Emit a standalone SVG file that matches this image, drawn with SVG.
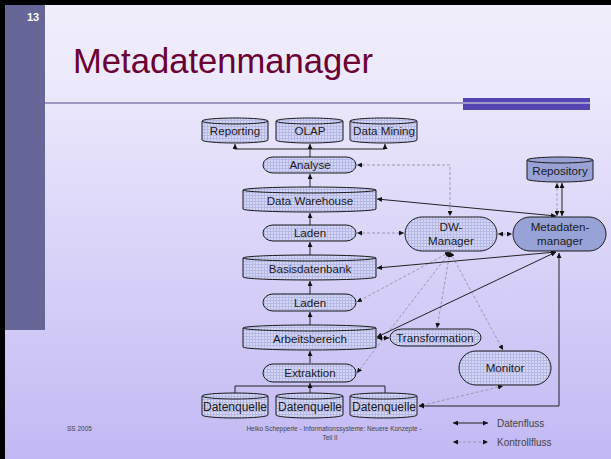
<svg xmlns="http://www.w3.org/2000/svg" width="611" height="459" viewBox="0 0 611 459">
<defs>
<linearGradient id="bg" x1="0" y1="0" x2="0" y2="1">
<stop offset="0" stop-color="#f1effb"/>
<stop offset="0.2" stop-color="#ebe8fb"/>
<stop offset="1" stop-color="#c2b9f4"/>
</linearGradient>
<pattern id="grid" width="3" height="3" patternUnits="userSpaceOnUse">
<rect width="3" height="3" fill="#d4d6f5"/>
<path d="M0 0.5H3M0.5 0V3" stroke="#b6b9e6" stroke-width="1"/>
</pattern>
<marker id="ah" viewBox="0 0 6 6" refX="6" refY="3" markerWidth="5" markerHeight="5" markerUnits="userSpaceOnUse" orient="auto-start-reverse">
<path d="M0 0L6 3L0 6z" fill="#111"/>
</marker>
<style>
.n{fill:url(#grid);stroke:#1a1a1a;stroke-width:1}
.d{fill:#98a2d6;stroke:#1a1a1a;stroke-width:1}
.t{font-family:"Liberation Sans",Arial,sans-serif;font-size:11.6px;fill:#1a1a1a;text-anchor:middle}
.s{fill:none;stroke:#222;stroke-width:1}
.c{fill:none;stroke:#8a8aa0;stroke-width:0.8;stroke-dasharray:3 2}
.f{font-family:"Liberation Sans",Arial,sans-serif;fill:#444}
</style>
</defs>
<rect width="611" height="459" fill="url(#bg)"/>
<rect x="0" y="0" width="611" height="5" fill="#000"/>
<rect x="0" y="0" width="5" height="459" fill="#000"/>
<rect x="5" y="5" width="40" height="325" fill="#666699"/>
<text x="33" y="21" font-family="Liberation Sans,Arial,sans-serif" font-size="11" font-weight="bold" fill="#fff" text-anchor="middle">13</text>
<text x="73" y="73" font-family="Liberation Sans,Arial,sans-serif" font-size="35" fill="#6b0033" textLength="300" lengthAdjust="spacingAndGlyphs">Metadatenmanager</text>
<rect x="463" y="98" width="127" height="12" fill="#5544b4"/>
<rect x="45" y="102" width="545" height="2" fill="#9c98c8"/>

<g id="connectors">
<path class="s" d="M235 149H385"/>
<path class="s" d="M235 149V144" marker-end="url(#ah)"/>
<path class="s" d="M310 157V144" marker-end="url(#ah)"/>
<path class="s" d="M385 149V144" marker-end="url(#ah)"/>
<path class="s" d="M310 187V174" marker-end="url(#ah)"/>
<path class="s" d="M310 225V213" marker-end="url(#ah)"/>
<path class="s" d="M310 255V242" marker-end="url(#ah)"/>
<path class="s" d="M310 294V281" marker-end="url(#ah)"/>
<path class="s" d="M310 325V312" marker-end="url(#ah)"/>
<path class="s" d="M310 363V351" marker-end="url(#ah)"/>
<path class="s" d="M235 393V386H385V393"/>
<path class="s" d="M310 393V383" marker-end="url(#ah)"/>

<path class="c" d="M357 165H450V216" marker-start="url(#ah)" marker-end="url(#ah)"/>
<path class="c" d="M357 233H404" marker-start="url(#ah)" marker-end="url(#ah)"/>
<path class="c" d="M498 234H512" marker-start="url(#ah)" marker-end="url(#ah)"/>
<path class="c" d="M450 252L357 302" marker-start="url(#ah)" marker-end="url(#ah)"/>
<path class="c" d="M450 252L357 373" marker-start="url(#ah)" marker-end="url(#ah)"/>
<path class="c" d="M450 252L437 328" marker-start="url(#ah)" marker-end="url(#ah)"/>
<path class="c" d="M450 252L503 350" marker-start="url(#ah)" marker-end="url(#ah)"/>
<path class="c" d="M503 386L419 406" marker-start="url(#ah)" marker-end="url(#ah)"/>
<path class="c" d="M557 183V216" marker-start="url(#ah)" marker-end="url(#ah)"/>

<path class="s" d="M562 183V216" marker-start="url(#ah)" marker-end="url(#ah)"/>
<path class="s" d="M377 199L556 216" marker-start="url(#ah)" marker-end="url(#ah)"/>
<path class="s" d="M377 268L556 252" marker-start="url(#ah)" marker-end="url(#ah)"/>
<path class="s" d="M377 337L556 252" marker-start="url(#ah)" marker-end="url(#ah)"/>
<path class="s" d="M377 338H389" marker-start="url(#ah)" marker-end="url(#ah)"/>
<path class="s" d="M419 406H559V253" marker-start="url(#ah)" marker-end="url(#ah)"/>

<path class="s" d="M453 423H488" marker-start="url(#ah)" marker-end="url(#ah)"/>
<path class="c" d="M453 442H488" marker-start="url(#ah)" marker-end="url(#ah)"/>
</g>

<g id="reporting">
<path class="n" d="M202 121A33 3 0 0 1 268 121V140A33 3 0 0 1 202 140Z"/>
<path class="n" d="M202 121A33 3 0 0 0 268 121"/>
<text class="t" x="235" y="135">Reporting</text>
</g>
<g id="olap">
<path class="n" d="M276 121A33.5 3 0 0 1 343 121V140A33.5 3 0 0 1 276 140Z"/>
<path class="n" d="M276 121A33.5 3 0 0 0 343 121"/>
<text class="t" x="310" y="135">OLAP</text>
</g>
<g id="datamining">
<path class="n" d="M350 121A33.5 3 0 0 1 417 121V140A33.5 3 0 0 1 350 140Z"/>
<path class="n" d="M350 121A33.5 3 0 0 0 417 121"/>
<text class="t" x="384" y="135">Data Mining</text>
</g>
<g id="analyse">
<rect class="n" x="263" y="157" width="93" height="16" rx="10" ry="8"/>
<text class="t" x="310" y="169">Analyse</text>
</g>
<g id="datawarehouse">
<path class="n" d="M243 190A66.5 3 0 0 1 376 190V209A66.5 3 0 0 1 243 209Z"/>
<path class="n" d="M243 190A66.5 3 0 0 0 376 190"/>
<text class="t" x="310" y="205">Data Warehouse</text>
</g>
<g id="laden1">
<rect class="n" x="263" y="225" width="93" height="16" rx="10" ry="8"/>
<text class="t" x="310" y="237">Laden</text>
</g>
<g id="basisdatenbank">
<path class="n" d="M243 258A66.5 3 0 0 1 376 258V277A66.5 3 0 0 1 243 277Z"/>
<path class="n" d="M243 258A66.5 3 0 0 0 376 258"/>
<text class="t" x="310" y="273">Basisdatenbank</text>
</g>
<g id="laden2">
<rect class="n" x="263" y="294" width="93" height="17" rx="10" ry="8.5"/>
<text class="t" x="310" y="307">Laden</text>
</g>
<g id="arbeitsbereich">
<path class="n" d="M243 328A66.5 3 0 0 1 376 328V347A66.5 3 0 0 1 243 347Z"/>
<path class="n" d="M243 328A66.5 3 0 0 0 376 328"/>
<text class="t" x="310" y="343">Arbeitsbereich</text>
</g>
<g id="extraktion">
<rect class="n" x="263" y="364" width="93" height="18" rx="10" ry="9"/>
<text class="t" x="310" y="377">Extraktion</text>
</g>
<g id="datenquelle1">
<path class="n" d="M202 396A33 3 0 0 1 268 396V415A33 3 0 0 1 202 415Z"/>
<path class="n" d="M202 396A33 3 0 0 0 268 396"/>
<text class="t" x="235" y="411" style="font-size:12px">Datenquelle</text>
</g>
<g id="datenquelle2">
<path class="n" d="M276 396A33.5 3 0 0 1 343 396V415A33.5 3 0 0 1 276 415Z"/>
<path class="n" d="M276 396A33.5 3 0 0 0 343 396"/>
<text class="t" x="310" y="411" style="font-size:12px">Datenquelle</text>
</g>
<g id="datenquelle3">
<path class="n" d="M350 396A33.5 3 0 0 1 417 396V415A33.5 3 0 0 1 350 415Z"/>
<path class="n" d="M350 396A33.5 3 0 0 0 417 396"/>
<text class="t" x="384" y="411" style="font-size:12px">Datenquelle</text>
</g>
<g id="dwmanager">
<rect class="n" x="405" y="217" width="92" height="34" rx="17"/>
<text class="t" x="451" y="231">DW-</text>
<text class="t" x="451" y="245">Manager</text>
</g>
<g id="metadatenmanager">
<rect class="d" x="513" y="217" width="93" height="34" rx="17"/>
<text class="t" x="560" y="231">Metadaten-</text>
<text class="t" x="560" y="245">manager</text>
</g>
<g id="repository">
<path class="d" d="M527 160A33 3 0 0 1 593 160V179A33 3 0 0 1 527 179Z"/>
<path class="d" d="M527 160A33 3 0 0 0 593 160"/>
<text class="t" x="560" y="175">Repository</text>
</g>
<g id="transformation">
<rect class="n" x="390" y="329" width="91" height="17" rx="12" ry="8.5"/>
<text class="t" x="435" y="342">Transformation</text>
</g>
<g id="monitor">
<rect class="n" x="459" y="351" width="92" height="34" rx="17"/>
<text class="t" x="505" y="372">Monitor</text>
</g>

<g id="legend">
<text class="f" x="497" y="427" font-size="10" fill="#222">Datenfluss</text>
<text class="f" x="497" y="446" font-size="10" fill="#222">Kontrollfluss</text>
</g>
<g id="footer">
<text class="f" x="67" y="431" font-size="6.5">SS 2005</text>
<text class="f" x="334" y="431" font-size="6.5" text-anchor="middle">Heiko Schepperle - Informationssysteme: Neuere Konzepte -</text>
<text class="f" x="330" y="440" font-size="6.5" text-anchor="middle">Teil II</text>
</g>
</svg>
